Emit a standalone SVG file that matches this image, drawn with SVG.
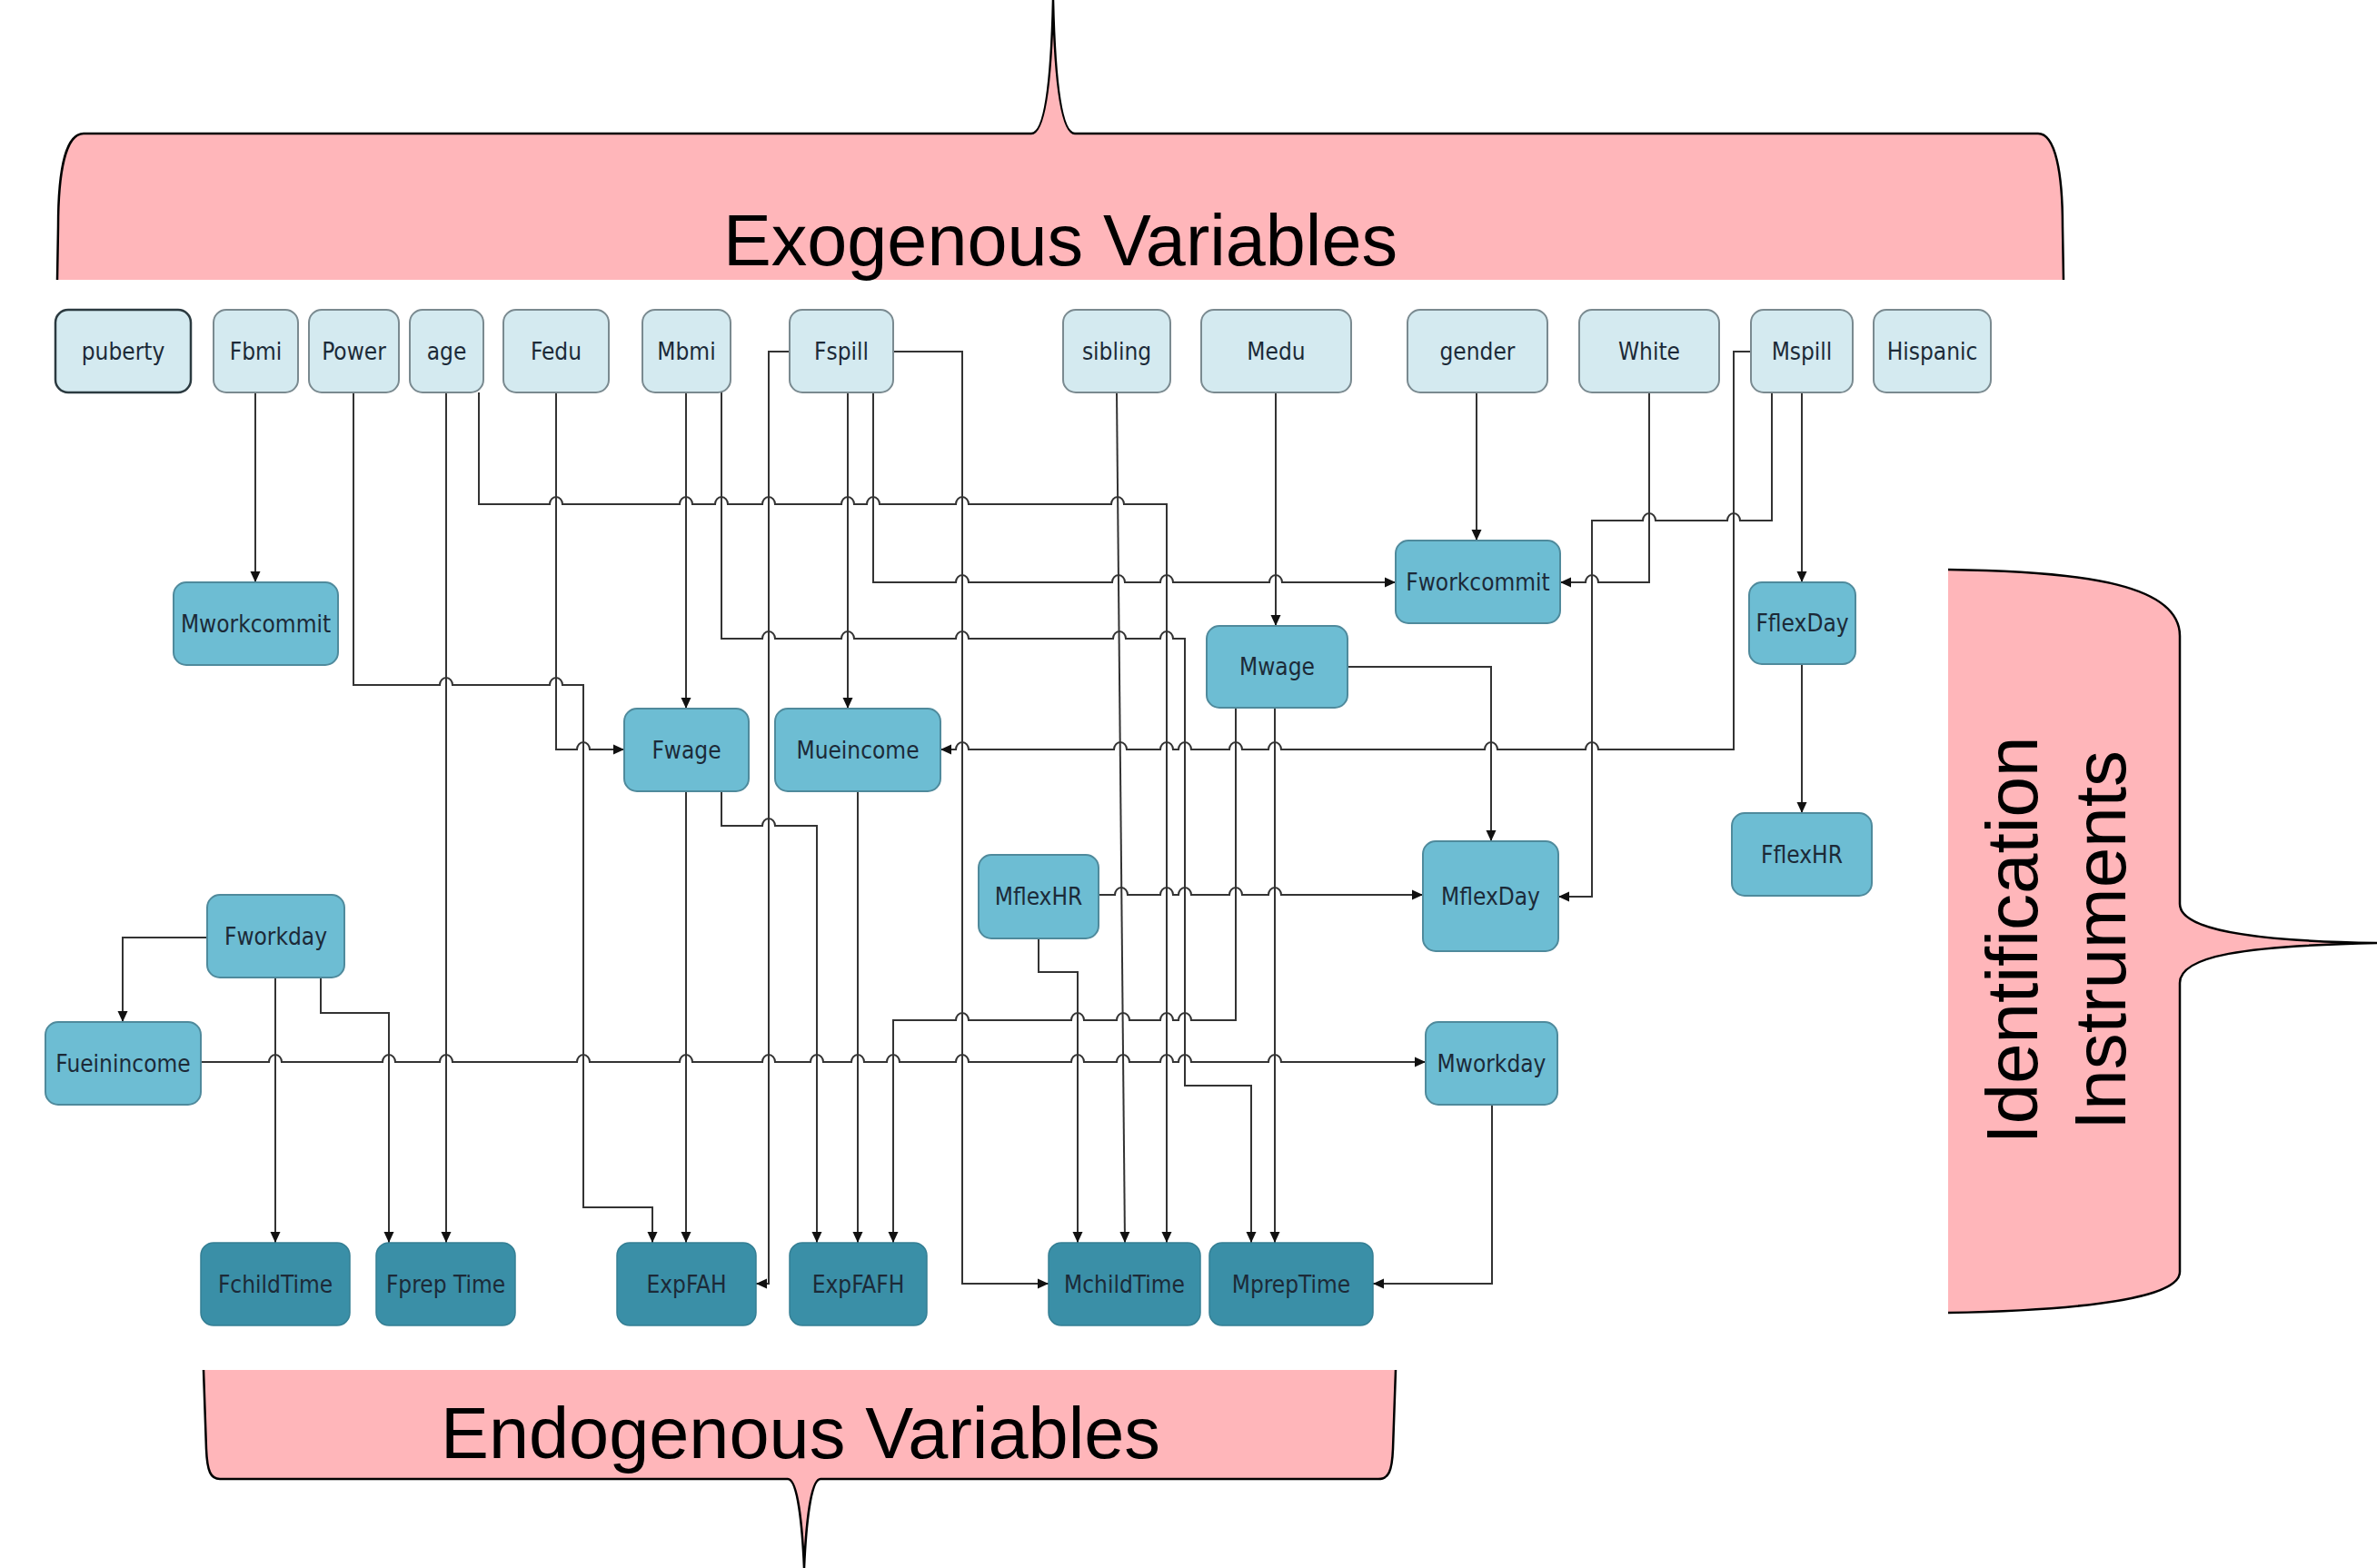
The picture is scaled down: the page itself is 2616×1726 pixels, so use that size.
<svg xmlns="http://www.w3.org/2000/svg" width="2616" height="1726" viewBox="0 0 2616 1726">
<defs>
<style>
.brace-fill{fill:#ffb6ba;stroke:none}
.brace-line{fill:none;stroke:#000;stroke-width:2.5}
.big{font-family:"Liberation Sans",Arial,sans-serif;font-size:80px;fill:#000;text-anchor:middle}
.exo rect{fill:#d4eaf0;stroke:#7a8a90;stroke-width:2}
.mid rect{fill:#6dbdd3;stroke:#4f8a9c;stroke-width:2}
.endo rect{fill:#3a8fa7;stroke:#357f94;stroke-width:1.5}
.lbl{font-family:"DejaVu Sans Condensed","DejaVu Sans",sans-serif;font-stretch:condensed;font-size:26px;fill:#1c2a38;text-anchor:middle}
#connectors path{fill:none;stroke:#333;stroke-width:2;marker-end:url(#arr)}
</style>
<marker id="arr" markerUnits="userSpaceOnUse" markerWidth="12" markerHeight="12" viewBox="0 0 12 12" refX="12" refY="6" orient="auto">
<path d="M0,0.5 L12,6 L0,11.5 Z" fill="#111"/>
</marker>
</defs>
<rect width="2616" height="1726" fill="#fff"/>

<g id="brace-exogenous">
<path class="brace-fill" d="M63,308 L64,250 C64,190 72,147 92,147 H1135 C1150,147 1157,90 1159,0 C1161,90 1168,147 1183,147 H2243 C2262,147 2270,190 2270,250 L2271,308 Z"/>
<path class="brace-line" d="M63,308 L64,250 C64,190 72,147 92,147 H1135 C1150,147 1157,90 1159,0 C1161,90 1168,147 1183,147 H2243 C2262,147 2270,190 2270,250 L2271,308"/>
<text class="big" x="1167" y="292" textLength="742" lengthAdjust="spacingAndGlyphs">Exogenous Variables</text>
</g>

<g id="brace-endogenous">
<path class="brace-fill" d="M224,1508 L227,1595 C228,1620 232,1628 242,1628 H867 C878,1628 883,1680 885,1726 C887,1680 892,1628 903,1628 H1517 C1528,1628 1532,1620 1533,1595 L1536,1508 Z"/>
<path class="brace-line" d="M224,1508 L227,1595 C228,1620 232,1628 242,1628 H867 C878,1628 883,1680 885,1726 C887,1680 892,1628 903,1628 H1517 C1528,1628 1532,1620 1533,1595 L1536,1508"/>
<text class="big" x="881" y="1605" textLength="792" lengthAdjust="spacingAndGlyphs">Endogenous Variables</text>
</g>

<g id="brace-instruments">
<path class="brace-fill" d="M2144,627 C2300,629 2399,645 2399,700 V995 C2399,1022 2470,1036 2616,1038 C2470,1041 2399,1052 2399,1082 V1400 C2399,1428 2300,1442 2144,1445 Z"/>
<path class="brace-line" d="M2144,627 C2300,629 2399,645 2399,700 V995 C2399,1022 2470,1036 2616,1038 C2470,1041 2399,1052 2399,1082 V1400 C2399,1428 2300,1442 2144,1445"/>
<text class="big" transform="translate(2242,1035) rotate(-90)" x="0" y="0">Identification</text>
<text class="big" transform="translate(2339,1035) rotate(-90)" x="0" y="0">Instruments</text>
</g>

<g id="connectors">
<path d="M281,432 V641"/>
<path d="M389,432 V754 H484 A7 8 0 0 1 498,754 H605 A7 8 0 0 1 619,754 H642 V1329 H718 V1368"/>
<path d="M612,432 V825 H635 A7 8 0 0 1 649,825 H687"/>
<path d="M491,432 V1368"/>
<path d="M527,432 V555 H605 A7 8 0 0 1 619,555 H748 A7 8 0 0 1 762,555 H787 A7 8 0 0 1 801,555 H839 A7 8 0 0 1 853,555 H926 A7 8 0 0 1 940,555 H954 A7 8 0 0 1 968,555 H1052 A7 8 0 0 1 1066,555 H1223 A7 8 0 0 1 1237,555 H1284 V1368"/>
<path d="M755,432 V780"/>
<path d="M794,432 V703 H839 A7 8 0 0 1 853,703 H926 A7 8 0 0 1 940,703 H1052 A7 8 0 0 1 1066,703 H1225 A7 8 0 0 1 1239,703 H1277 A7 8 0 0 1 1291,703 H1304 V1195 H1377 V1368"/>
<path d="M869,387 H846 V1413 H832"/>
<path d="M933,432 V780"/>
<path d="M961,432 V641 H1052 A7 8 0 0 1 1066,641 H1224 A7 8 0 0 1 1238,641 H1277 A7 8 0 0 1 1291,641 H1397 A7 8 0 0 1 1411,641 H1536"/>
<path d="M983,387 H1059 V1413 H1154"/>
<path d="M1229,432 L1238,1368"/>
<path d="M1404,432 V689"/>
<path d="M1625,432 V595"/>
<path d="M1815,432 V641 H1759 A7 8 0 0 0 1745,641 H1717"/>
<path d="M1927,387 H1908 V825 H1759 A7 8 0 0 0 1745,825 H1648 A7 8 0 0 0 1634,825 H1410 A7 8 0 0 0 1396,825 H1367 A7 8 0 0 0 1353,825 H1311 A7 8 0 0 0 1297,825 H1291 A7 8 0 0 0 1277,825 H1240 A7 8 0 0 0 1226,825 H1066 A7 8 0 0 0 1052,825 H1035"/>
<path d="M1950,432 V573 H1915 A7 8 0 0 0 1901,573 H1822 A7 8 0 0 0 1808,573 H1752 V987 H1715"/>
<path d="M1983,432 V641"/>
<path d="M1983,731 V895"/>
<path d="M1483,734 H1641 V926"/>
<path d="M1360,779 V1123 H1311 A7 8 0 0 0 1297,1123 H1291 A7 8 0 0 0 1277,1123 H1243 A7 8 0 0 0 1229,1123 H1193 A7 8 0 0 0 1179,1123 H1066 A7 8 0 0 0 1052,1123 H983 V1368"/>
<path d="M1403,779 V1368"/>
<path d="M944,871 V1368"/>
<path d="M755,871 V1368"/>
<path d="M794,871 V909 H839 A7 8 0 0 1 853,909 H899 V1368"/>
<path d="M1209,985 H1227 A7 8 0 0 1 1241,985 H1277 A7 8 0 0 1 1291,985 H1297 A7 8 0 0 1 1311,985 H1353 A7 8 0 0 1 1367,985 H1396 A7 8 0 0 1 1410,985 H1566"/>
<path d="M1143,1033 V1070 H1186 V1368"/>
<path d="M228,1032 H135 V1125"/>
<path d="M303,1076 V1368"/>
<path d="M353,1076 V1115 H428 V1368"/>
<path d="M221,1169 H296 A7 8 0 0 1 310,1169 H421 A7 8 0 0 1 435,1169 H484 A7 8 0 0 1 498,1169 H635 A7 8 0 0 1 649,1169 H748 A7 8 0 0 1 762,1169 H839 A7 8 0 0 1 853,1169 H892 A7 8 0 0 1 906,1169 H937 A7 8 0 0 1 951,1169 H976 A7 8 0 0 1 990,1169 H1052 A7 8 0 0 1 1066,1169 H1179 A7 8 0 0 1 1193,1169 H1229 A7 8 0 0 1 1243,1169 H1277 A7 8 0 0 1 1291,1169 H1297 A7 8 0 0 1 1311,1169 H1396 A7 8 0 0 1 1410,1169 H1569"/>
<path d="M1642,1216 V1413 H1511"/>
</g>

<g id="n-puberty" class="exo"><rect x="61" y="341" width="149" height="91" rx="14" style="stroke:#2b3a40;stroke-width:2.5"/><text class="lbl" x="135.5" y="395.5">puberty</text></g>
<g id="n-Fbmi" class="exo"><rect x="235" y="341" width="93" height="91" rx="14"/><text class="lbl" x="281.5" y="395.5">Fbmi</text></g>
<g id="n-Power" class="exo"><rect x="340" y="341" width="99" height="91" rx="14"/><text class="lbl" x="389.5" y="395.5">Power</text></g>
<g id="n-age" class="exo"><rect x="451" y="341" width="81" height="91" rx="14"/><text class="lbl" x="491.5" y="395.5">age</text></g>
<g id="n-Fedu" class="exo"><rect x="554" y="341" width="116" height="91" rx="14"/><text class="lbl" x="612" y="395.5">Fedu</text></g>
<g id="n-Mbmi" class="exo"><rect x="707" y="341" width="97" height="91" rx="14"/><text class="lbl" x="755.5" y="395.5">Mbmi</text></g>
<g id="n-Fspill" class="exo"><rect x="869" y="341" width="114" height="91" rx="14"/><text class="lbl" x="926" y="395.5">Fspill</text></g>
<g id="n-sibling" class="exo"><rect x="1170" y="341" width="118" height="91" rx="14"/><text class="lbl" x="1229" y="395.5">sibling</text></g>
<g id="n-Medu" class="exo"><rect x="1322" y="341" width="165" height="91" rx="14"/><text class="lbl" x="1404.5" y="395.5">Medu</text></g>
<g id="n-gender" class="exo"><rect x="1549" y="341" width="154" height="91" rx="14"/><text class="lbl" x="1626" y="395.5">gender</text></g>
<g id="n-White" class="exo"><rect x="1738" y="341" width="154" height="91" rx="14"/><text class="lbl" x="1815" y="395.5">White</text></g>
<g id="n-Mspill" class="exo"><rect x="1927" y="341" width="112" height="91" rx="14"/><text class="lbl" x="1983" y="395.5">Mspill</text></g>
<g id="n-Hispanic" class="exo"><rect x="2062" y="341" width="129" height="91" rx="14"/><text class="lbl" x="2126.5" y="395.5">Hispanic</text></g>

<g id="n-Mworkcommit" class="mid"><rect x="191" y="641" width="181" height="91" rx="14"/><text class="lbl" x="281.5" y="695.5">Mworkcommit</text></g>
<g id="n-Fworkcommit" class="mid"><rect x="1536" y="595" width="181" height="91" rx="14"/><text class="lbl" x="1626.5" y="649.5">Fworkcommit</text></g>
<g id="n-FflexDay" class="mid"><rect x="1925" y="641" width="117" height="90" rx="14"/><text class="lbl" x="1983.5" y="695">FflexDay</text></g>
<g id="n-Mwage" class="mid"><rect x="1328" y="689" width="155" height="90" rx="14"/><text class="lbl" x="1405.5" y="743">Mwage</text></g>
<g id="n-Fwage" class="mid"><rect x="687" y="780" width="137" height="91" rx="14"/><text class="lbl" x="755.5" y="834.5">Fwage</text></g>
<g id="n-Mueincome" class="mid"><rect x="853" y="780" width="182" height="91" rx="14"/><text class="lbl" x="944" y="834.5">Mueincome</text></g>
<g id="n-FflexHR" class="mid"><rect x="1906" y="895" width="154" height="91" rx="14"/><text class="lbl" x="1983" y="949.5">FflexHR</text></g>
<g id="n-MflexHR" class="mid"><rect x="1077" y="941" width="132" height="92" rx="14"/><text class="lbl" x="1143" y="996">MflexHR</text></g>
<g id="n-MflexDay" class="mid"><rect x="1566" y="926" width="149" height="121" rx="14"/><text class="lbl" x="1640.5" y="995.5">MflexDay</text></g>
<g id="n-Fworkday" class="mid"><rect x="228" y="985" width="151" height="91" rx="14"/><text class="lbl" x="303.5" y="1039.5">Fworkday</text></g>
<g id="n-Fueinincome" class="mid"><rect x="50" y="1125" width="171" height="91" rx="14"/><text class="lbl" x="135.5" y="1179.5">Fueinincome</text></g>
<g id="n-Mworkday" class="mid"><rect x="1569" y="1125" width="145" height="91" rx="14"/><text class="lbl" x="1641.5" y="1179.5">Mworkday</text></g>

<g id="n-FchildTime" class="endo"><rect x="221" y="1368" width="164" height="91" rx="14"/><text class="lbl" x="303" y="1422.5">FchildTime</text></g>
<g id="n-FprepTime" class="endo"><rect x="414" y="1368" width="153" height="91" rx="14"/><text class="lbl" x="490.5" y="1422.5">Fprep Time</text></g>
<g id="n-ExpFAH" class="endo"><rect x="679" y="1368" width="153" height="91" rx="14"/><text class="lbl" x="755.5" y="1422.5">ExpFAH</text></g>
<g id="n-ExpFAFH" class="endo"><rect x="869" y="1368" width="151" height="91" rx="14"/><text class="lbl" x="944.5" y="1422.5">ExpFAFH</text></g>
<g id="n-MchildTime" class="endo"><rect x="1154" y="1368" width="167" height="91" rx="14"/><text class="lbl" x="1237.5" y="1422.5">MchildTime</text></g>
<g id="n-MprepTime" class="endo"><rect x="1331" y="1368" width="180" height="91" rx="14"/><text class="lbl" x="1421" y="1422.5">MprepTime</text></g>
</svg>
